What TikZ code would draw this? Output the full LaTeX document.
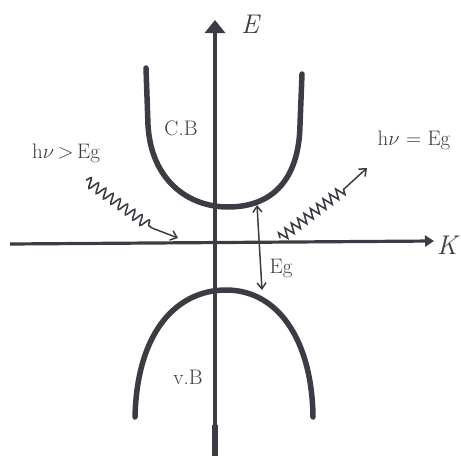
\documentclass[tikz,border=0pt]{standalone}
\usetikzlibrary{arrows.meta,decorations.pathmorphing}
\definecolor{ink}{HTML}{3C3C44}
\begin{document}
\begin{tikzpicture}[x=1pt,y=-1pt,
  band/.style={draw=ink,line width=5.5pt,line cap=round},
  axis/.style={draw=ink,line width=3.2pt},
  lbl/.style={text=ink,font=\fontsize{21}{24}\selectfont},
  big/.style={text=ink,font=\fontsize{27}{30}\selectfont\itshape},
  photon/.style={draw=ink,line width=1.6pt,decorate,decoration={snake,amplitude=5pt,segment length=9pt}},
  thin/.style={draw=ink,line width=1.5pt}]
\useasboundingbox (0,0) rectangle (461,461);
% axes
\coordinate (vb0) at (215,456);
\coordinate (vt) at (215,20);
\coordinate (hl) at (10,244);
\coordinate (hr) at (434,241);
\draw[axis,-{Triangle[width=20pt,length=13pt]}] (vb0) -- (vt);
\draw[draw=ink,line width=6pt] (215,456) -- (215,425);
\draw[axis,-{Triangle[width=11pt,length=9pt]}] (hl) -- (hr);
\node[big] (E) at (250,24) {E};
\node[big] (K) at (447,245) {K};
% bands
\draw[band] (146,68) -- (148,125) .. controls (151,180) and (188,207) .. (228,207)
  .. controls (272,207) and (299,180) .. (300,125) -- (302,74);
\draw[band] (135,417) .. controls (137,330) and (178,290) .. (226,290)
  .. controls (278,290) and (312,340) .. (313,417);
\node[lbl] (CB) at (181,128) {C.B};
\node[lbl] (VB) at (188,377) {v.B};
% gap arrow
\coordinate (gt) at (257,205);
\coordinate (gb) at (262,290);
\draw[thin,{Straight Barb[length=6pt,width=9pt]}-{Straight Barb[length=6pt,width=9pt]}] (gt) -- (gb);
\node[lbl] (Eg) at (281,268) {Eg};
% left photon
\node[lbl] (hl1) at (66,153) {h$\nu$\,>\,Eg};
\coordinate (p1a) at (86,180);
\coordinate (p1b) at (152,228);
\coordinate (p1c) at (178,238);
\draw[photon] (p1a) -- (p1b);
\draw[thin,-{Straight Barb[length=6pt,width=10pt]}] (p1b) -- (p1c);
% right photon
\node[lbl] (hr1) at (414,140) {h$\nu$ = Eg};
\coordinate (p2a) at (280,238);
\coordinate (p2b) at (344,189);
\coordinate (p2c) at (367,168);
\draw[photon,decoration={zigzag,amplitude=5pt,segment length=8pt}] (p2a) -- (p2b);
\draw[thin,-{Straight Barb[length=6pt,width=10pt]}] (p2b) -- (p2c);
\end{tikzpicture}
\end{document}
